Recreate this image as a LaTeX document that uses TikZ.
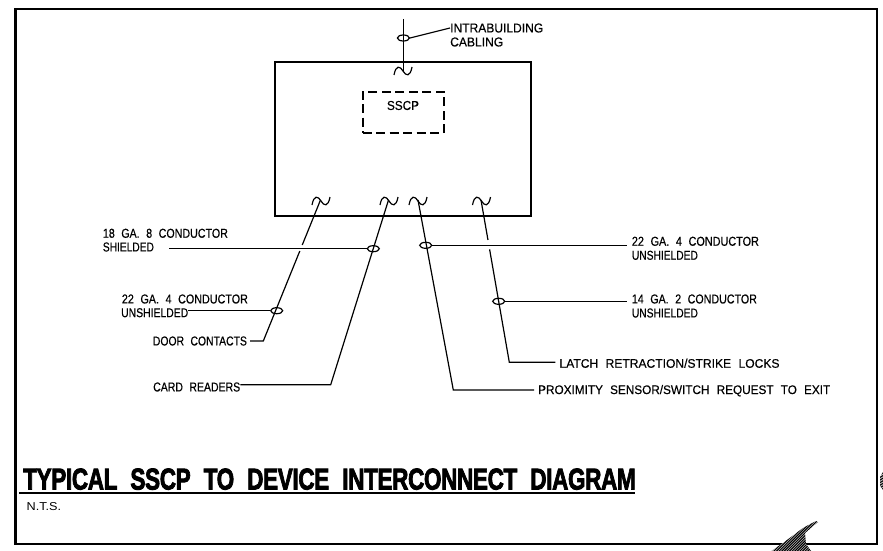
\documentclass[tikz,border=0pt]{standalone}
\usepackage{fontspec}
\usepackage{graphicx}
\setmainfont{Liberation Sans}
\newfontfamily\cadfont[WordSpace=2.2,FakeBold=0.4]{Liberation Sans}
\newfontfamily\cadbold[WordSpace=2.2,LetterSpace=-1.5,FakeBold=3]{Liberation Sans Bold}
\usetikzlibrary{shapes.geometric,calc}
\newcommand{\cadlab}[2]{\resizebox{#1pt}{9pt}{\cadfont #2}}
\tikzset{
  frameline/.style={draw=black,line width=2.3pt},
  boxline/.style={draw=black,line width=2pt},
  dashbox/.style={draw=black,line width=2pt,dash pattern=on 9pt off 4.5pt},
  wire/.style={draw=black,line width=1.2pt},
  bundle/.style={ellipse,draw=black,line width=1.2pt,minimum width=12pt,minimum height=6pt,inner sep=0pt},
  lab/.style={anchor=west,inner sep=0pt,text=black},
  tildecurve/.pic={\draw[line width=1.2pt] (-9,4) .. controls (-7,-6.5) and (-3,-5) .. (0,0) .. controls (3,5) and (7,6.5) .. (9,-4);}
}
\begin{document}
\begin{tikzpicture}[x=1pt,y=-1pt]
\path[use as bounding box,fill=white] (0,0) rectangle (883,551);
% outer frame
\draw[frameline] (15.5,9) rectangle (877,544);
% enclosure and SSCP
\node[boxline,minimum width=256.5pt,minimum height=154pt,inner sep=0pt,anchor=north west] (box) at (273.5,61) {};
\node[dashbox,minimum width=81pt,minimum height=41.5pt,inner sep=0pt,anchor=north west] (sscp) at (361.5,90.5) {};
\node[inner sep=0pt,text=black] (sscplab) at (403,105.5) {\resizebox{32pt}{9pt}{\cadfont SSCP}};
% tildes
\pic at (403,71) {tildecurve};
\pic at (321,201) {tildecurve};
\pic at (389,201) {tildecurve};
\pic at (418,201) {tildecurve};
\pic at (481.5,201) {tildecurve};
% top wire
\coordinate (ttop) at (403.4,19);
\coordinate (tbot) at (403.4,71);
\draw[wire] (ttop) -- (tbot);
\node[bundle] (btop) at (403.4,38) {};
\node[lab] (intra) at (450,28) {\resizebox{93pt}{9pt}{\cadfont INTRABUILDING}};
\node[lab] (cabl) at (450,42) {\resizebox{53pt}{9pt}{\cadfont CABLING}};
\draw[wire] (btop.east) -- (intra.west);
% wire 1: door contacts
\coordinate (w1a) at (320.5,200);
\coordinate (w1b) at (263.3,341);
\node[lab] (door) at (152.7,341) {\cadlab{94}{DOOR CONTACTS}};
\draw[wire] (w1a) -- ($(w1a)!0.319!(w1b)$);
\draw[wire] ($(w1a)!0.362!(w1b)$) -- (w1b) -- ([xshift=3pt]door.east);
% wire 2: card readers
\coordinate (w2a) at (388.5,200);
\coordinate (w2b) at (330.7,384.7);
\node[lab] (card) at (153,387) {\cadlab{87}{CARD READERS}};
\draw[wire] (w2a) -- (w2b) -- (card.east |- w2b);
% wire 3: proximity
\coordinate (w3a) at (418,200);
\coordinate (w3b) at (453.3,390);
\node[lab] (prox) at (538,390.7) {\cadlab{292}{PROXIMITY SENSOR/SWITCH REQUEST TO EXIT}};
\draw[wire] (w3a) -- (w3b) -- ([xshift=-4pt]prox.west |- w3b);
% wire 4: latch
\coordinate (w4a) at (481,200);
\coordinate (w4b) at (509.3,362.3);
\node[lab] (latch) at (559.3,363.3) {\cadlab{220}{LATCH RETRACTION/STRIKE LOCKS}};
\draw[wire] (w4a) -- ($(w4a)!0.246!(w4b)$);
\draw[wire] ($(w4a)!0.304!(w4b)$) -- (w4b) -- ([xshift=-4pt]latch.west |- w4b);
% bundles and leaders
\node[bundle] (b1) at (276.7,310.7) {};
\node[bundle] (b2) at (373.3,248.7) {};
\node[bundle] (b3) at (425.7,245.3) {};
\node[bundle] (b4) at (498.7,301.3) {};
\node[lab] (l18a) at (102.7,233.3) {\cadlab{125}{18 GA. 8 CONDUCTOR}};
\node[lab] (l18b) at (102.7,247) {\cadlab{51}{SHIELDED}};
\node[lab] (l22a) at (121.7,299) {\cadlab{126}{22 GA. 4 CONDUCTOR}};
\node[lab] (l22b) at (121,312.7) {\cadlab{67}{UNSHIELDED}};
\node[lab] (r22a) at (631.7,241.3) {\cadlab{127}{22 GA. 4 CONDUCTOR}};
\node[lab] (r22b) at (631.7,255.3) {\cadlab{66}{UNSHIELDED}};
\node[lab] (r14a) at (631.7,299) {\cadlab{125}{14 GA. 2 CONDUCTOR}};
\node[lab] (r14b) at (631.7,313) {\cadlab{66}{UNSHIELDED}};
\coordinate (l18s) at (169.3,248.7);
\draw[wire] (l18s) -- (b2.west);
\draw[wire] (l22b.east |- b1) -- (b1.west);
\draw[wire] (b3.east) -- ([xshift=-5pt]r22a.west |- b3);
\draw[wire] (b4.east) -- ([xshift=-5pt]r14a.west |- b4);
% title
\node[lab,anchor=south west] (title) at (23,490) {\resizebox{612.5pt}{21pt}{\cadbold TYPICAL SSCP TO DEVICE INTERCONNECT DIAGRAM}};
\coordinate (ula) at (19,493);
\coordinate (ulb) at (635,493);
\draw[line width=1.6pt] (ula) -- (ulb);
\node[lab] (nts) at (26.5,507) {\resizebox{34.5pt}{8pt}{N.T.S.}};
% hatched scraps at the lower right
\begin{scope}
\clip (816,521) -- (818,522) -- (805,533) -- (806,544) -- (811,551) -- (771,551) -- (783,543) -- (803,528) -- cycle;
\fill[gray!55] (765,515) rectangle (825,551);
\foreach \k in {0,2.6,...,70}{\draw[line width=1pt] (765+\k,560) -- (765+\k+45,515);}
\end{scope}
\begin{scope}
\clip (883,472) -- (880,477) -- (880,486) -- (883,490) -- cycle;
\fill[gray!55] (879,470) rectangle (883,491);
\foreach \k in {0,2.6,...,25}{\draw[line width=1pt] (875,470+\k) -- (885,464+\k);}
\end{scope}
\end{tikzpicture}
\end{document}
